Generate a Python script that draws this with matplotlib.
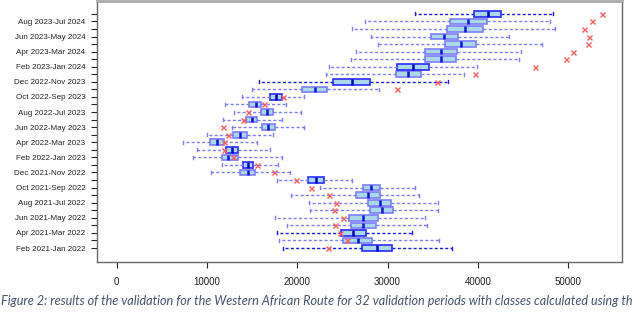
# Validation boxplots for the Western African Route (32 rolling 12-month periods)
import numpy as np
import matplotlib.pyplot as plt

# one row per validation period, bottom row first
periods = ['Feb 2021-Jan 2022', 'Mar 2021-Feb 2022', 'Apr 2021-Mar 2022', 'May 2021-Apr 2022',
           'Jun 2021-May 2022', 'Jul 2021-Jun 2022', 'Aug 2021-Jul 2022', 'Sep 2021-Aug 2022',
           'Oct 2021-Sep 2022', 'Nov 2021-Oct 2022', 'Dec 2021-Nov 2022', 'Jan 2022-Dec 2022',
           'Feb 2022-Jan 2023', 'Mar 2022-Feb 2023', 'Apr 2022-Mar 2023', 'May 2022-Apr 2023',
           'Jun 2022-May 2023', 'Jul 2022-Jun 2023', 'Aug 2022-Jul 2023', 'Sep 2022-Aug 2023',
           'Oct 2022-Sep 2023', 'Nov 2022-Oct 2023', 'Dec 2022-Nov 2023', 'Jan 2023-Dec 2023',
           'Feb 2023-Jan 2024', 'Mar 2023-Feb 2024', 'Apr 2023-Mar 2024', 'May 2023-Apr 2024',
           'Jun 2023-May 2024', 'Jul 2023-Jun 2024', 'Aug 2023-Jul 2024', 'Sep 2023-Aug 2024']

lows = [18440, 17970, 17780, 18820, 17490, 21400, 21290, 19260, 22510, 17780, 10410, 11620,
        8410, 8920, 7370, 9960, 12800, 11800, 13020, 11990, 13900, 15010, 15750, 23170,
        23530, 25900, 26490, 28960, 28120, 26010, 27490, 33020]
q1 = [27120, 25080, 24800, 25900, 25720, 28010, 27820, 26460, 27230, 21210, 13650, 14010,
      11660, 12100, 10330, 12910, 16120, 14310, 15940, 14680, 17000, 20510, 23980, 30890,
      31060, 34160, 34160, 36340, 34790, 36530, 36900, 39550]
medians = [28780, 26680, 26130, 27300, 27300, 29340, 29110, 27850, 28150, 22060, 14500, 14570,
           12320, 12800, 11140, 13650, 16780, 14940, 16670, 15390, 17670, 21920, 26080, 32280,
           32830, 35870, 35900, 38080, 36270, 38560, 38920, 41070]
q3 = [30510, 28300, 27560, 28670, 28890, 30620, 30330, 29150, 29180, 22950, 15310, 15120,
      13460, 13460, 11880, 14390, 17520, 15570, 17340, 15940, 18270, 23310, 28040, 33650,
      34540, 37530, 37700, 39740, 37820, 40520, 41030, 42540]
highs = [37090, 35680, 32720, 34320, 34130, 35600, 35530, 33500, 33020, 26080, 19180, 17820,
         18270, 16970, 15560, 17340, 20740, 18330, 20370, 18740, 20770, 29070, 36710, 38480,
         39850, 44530, 44830, 47110, 43460, 48520, 47970, 48330]
# observed value for each period (red crosses)
observed = [23420, 25490, 24720, 24170, 25020, 24020, 24280, 23540, 21510, 19820, 17410, 15500,
            12910, 11880, 11880, 12350, 11730, 14010, 14500, 16310, 18440, 31060, 35460, 39660,
            46310, 49740, 50550, 52140, 52290, 51730, 52650, 53760]

x_ticks = [0, 10000, 20000, 30000, 40000, 50000]

# the caption is cut at the right edge in the source picture
caption = ('Figure 2: results of the validation for the Western African Route for 32 validation '
           'periods with classes calculated using th')

plt.rcParams['font.family'] = ['Liberation Sans', 'DejaVu Sans']

fig = plt.figure(figsize=(6.4, 3.26), dpi=100)
ax = fig.add_axes([97 / 640, 1 - 262 / 326, (622 - 97) / 640, (262 - 1) / 326])

pos = np.arange(len(periods))
stats = []
for i in range(len(periods)):
    stats.append(dict(whislo=lows[i], q1=q1[i], med=medians[i], q3=q3[i],
                      whishi=highs[i], fliers=[], label=periods[i]))

light = '#7d7dff'
res = ax.bxp(stats, positions=pos, widths=0.75, orientation='horizontal',
             patch_artist=True, showfliers=False, capwidths=0.4,
             boxprops=dict(facecolor='#a9d8e6', edgecolor=light, linewidth=1.2),
             medianprops=dict(color='#1010e0', linewidth=1.8),
             whiskerprops=dict(color=light, linestyle=(0, (2.2, 1.6)), linewidth=1),
             capprops=dict(color=light, linewidth=1))

# some rows come out darker in the original
dark_rows = [0, 2, 22, 31]
mid_rows = [9, 11, 13, 20, 24]
for i in dark_rows + mid_rows:
    res['boxes'][i].set_edgecolor('#2a2aff')
    res['medians'][i].set_color('#0000cc')
for i in dark_rows:
    for art in res['whiskers'][2 * i:2 * i + 2] + res['caps'][2 * i:2 * i + 2]:
        art.set_color('#1a1aff')

ax.plot(observed, pos, 'x', color='#ff5a5a', ms=3.6, mew=1, zorder=5)

ax.set_xlim(-2180, 55960)
ax.set_ylim(-1.85, 32.7)
ax.set_xticks(x_ticks)
ax.set_xticklabels([str(v) for v in x_ticks], fontsize=7)
ax.set_yticks(pos)
ax.set_yticklabels([p if i % 2 == 0 else '' for i, p in enumerate(periods)], fontsize=5.8)
ax.tick_params(axis='y', length=4.3, width=0.8, pad=4, colors='#222222')
ax.tick_params(axis='x', length=4, width=0.8, pad=7, colors='#222222')
for s in ax.spines.values():
    s.set_color('#666666')
    s.set_linewidth(1)
ax.spines['top'].set_color('#aaaaaa')
ax.spines['top'].set_linewidth(2)

fig.text(0.002, (326 - 305) / 326, caption, fontsize=9.05, style='italic',
         color='#44546a', family=['Lato', 'DejaVu Sans'])

fig.savefig('out.png', dpi=100)
